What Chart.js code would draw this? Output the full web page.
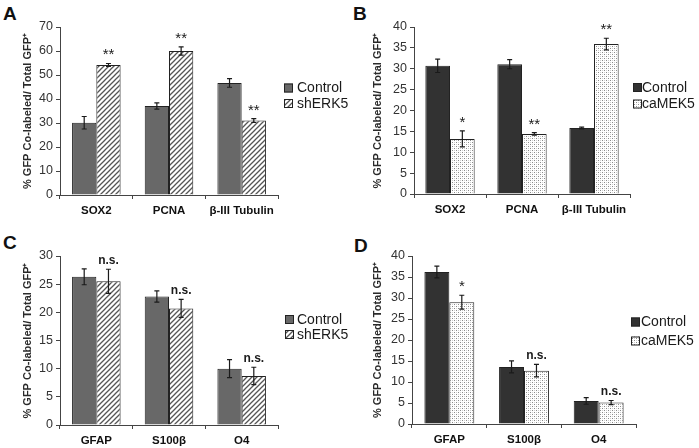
<!DOCTYPE html>
<html><head><meta charset="utf-8">
<script src="https://cdn.jsdelivr.net/npm/chart.js@4.4.1/dist/chart.umd.min.js"></script>
<style>
html,body{margin:0;padding:0;background:#fff;width:699px;height:448px;overflow:hidden}
canvas{position:absolute}
.lbl{position:absolute;font:bold 19px "Liberation Sans",Arial,sans-serif;color:#111;line-height:normal}
</style></head><body>
<div class="lbl" style="left:3px;top:3px">A</div>
<div class="lbl" style="left:353px;top:3px">B</div>
<div class="lbl" style="left:3px;top:232px">C</div>
<div class="lbl" style="left:354px;top:235px">D</div>
<canvas id="cA" width="350" height="224" style="left:0;top:0"></canvas>
<canvas id="cB" width="349" height="224" style="left:350px;top:0"></canvas>
<canvas id="cC" width="350" height="224" style="left:0;top:224px"></canvas>
<canvas id="cD" width="349" height="224" style="left:350px;top:224px"></canvas>
<script>
// ---- data ----
const catsTop = ['SOX2', 'PCNA', 'β-III Tubulin'];
const catsBottom = ['GFAP', 'S100β', 'O4'];

const aControl = [30.1, 37.1, 46.7];
const aControlErr = [2.6, 1.3, 1.8];
const aShERK5 = [54.2, 60.0, 31.0];
const aShERK5Err = [0.6, 1.7, 0.8];
const aSig = ['**', '**', '**'];

const bControl = [30.7, 31.1, 15.8];
const bControlErr = [1.6, 1.1, 0.2];
const bCaMEK5 = [13.2, 14.4, 35.9];
const bCaMEK5Err = [1.9, 0.3, 1.4];
const bSig = ['*', '**', '**'];

const cControl = [26.3, 22.8, 10.0];
const cControlErr = [1.4, 1.0, 1.6];
const cShERK5 = [25.5, 20.7, 8.7];
const cShERK5Err = [2.15, 1.6, 1.55];
const cSig = ['n.s.', 'n.s.', 'n.s.'];

const dControl = [36.2, 13.6, 5.5];
const dControlErr = [1.4, 1.45, 0.8];
const dCaMEK5 = [29.0, 12.7, 5.1];
const dCaMEK5Err = [1.65, 1.5, 0.5];
const dSig = ['*', 'n.s.', 'n.s.'];

const yMaxA = 70, yStepA = 10;
const yMaxB = 40, yStepB = 5;
const yMaxC = 30, yStepC = 5;
const yMaxD = 40, yStepD = 5;
const yTitle = '% GFP Co-labeled/ Total GFP⁺';

// ---- patterns ----
const FAM = '"Liberation Sans", Arial, sans-serif';
function hatch() {
  const c = document.createElement('canvas'); c.width = 5; c.height = 5;
  const g = c.getContext('2d');
  g.fillStyle = '#fff'; g.fillRect(0, 0, 5, 5);
  g.strokeStyle = '#555'; g.lineWidth = 1.3;
  g.beginPath();
  g.moveTo(-1, 6); g.lineTo(6, -1);
  g.moveTo(-1, 1); g.lineTo(1, -1);
  g.moveTo(4, 6); g.lineTo(6, 4);
  g.stroke();
  return g.createPattern(c, 'repeat');
}
function dots() {
  const c = document.createElement('canvas'); c.width = 4; c.height = 4;
  const g = c.getContext('2d');
  g.fillStyle = '#fff'; g.fillRect(0, 0, 4, 4);
  g.fillStyle = '#8a8a8a'; g.fillRect(0, 0, 1, 1); g.fillRect(2, 2, 1, 1);
  g.fillStyle = '#d0d0d0'; g.fillRect(2, 0, 1, 1); g.fillRect(0, 2, 1, 1);
  return g.createPattern(c, 'repeat');
}

// ---- plugins ----
const errPlugin = {
  id: 'errbars',
  afterDatasetsDraw(chart, args, opts) {
    const ctx = chart.ctx, y = chart.scales.y;
    ctx.save();
    chart.data.datasets.forEach((ds, i) => {
      const meta = chart.getDatasetMeta(i);
      meta.data.forEach((el, j) => {
        const v = ds.data[j], e = ds.errs[j];
        const yt = y.getPixelForValue(v + e), yb = y.getPixelForValue(v - e);
        ctx.strokeStyle = '#1a1a1a'; ctx.lineWidth = 1.2;
        ctx.beginPath();
        ctx.moveTo(el.x, yt); ctx.lineTo(el.x, yb);
        ctx.moveTo(el.x - 2.5, yt); ctx.lineTo(el.x + 2.5, yt);
        ctx.moveTo(el.x - 2.5, yb); ctx.lineTo(el.x + 2.5, yb);
        ctx.stroke();
      });
    });
    // significance labels above treatment bar
    const ds = chart.data.datasets[1], meta = chart.getDatasetMeta(1);
    ctx.fillStyle = '#1a1a1a'; ctx.textAlign = 'center'; ctx.textBaseline = 'alphabetic';
    (opts.sig || []).forEach((s, j) => {
      const el = meta.data[j];
      const yt = y.getPixelForValue(ds.data[j] + ds.errs[j]);
      ctx.font = s.includes('*') ? '15px ' + FAM : 'bold 12px ' + FAM;
      ctx.fillText(s, el.x, yt - (s.includes('*') ? 4 : 5));
    });
    ctx.restore();
  }
};
const legPlugin = {
  id: 'boxlegend',
  afterDraw(chart, args, opts) {
    const ctx = chart.ctx;
    ctx.save();
    chart.data.datasets.forEach((ds, i) => {
      const cy = opts.y + i * opts.gap;
      ctx.fillStyle = ds.backgroundColor;
      ctx.fillRect(opts.x, cy - 4.5, 9, 9);
      ctx.strokeStyle = '#222'; ctx.lineWidth = 1;
      ctx.strokeRect(opts.x + 0.5, cy - 4, 8, 8);
      ctx.fillStyle = '#1a1a1a'; ctx.font = '14px ' + FAM;
      ctx.textAlign = 'left'; ctx.textBaseline = 'middle';
      ctx.fillText(ds.label, opts.tx, cy + 0.5);
    });
    ctx.restore();
  }
};

function panel(id, cats, ctrl, ctrlErr, trt, trtErr, sig, trtName, ctrlColor, trtFill, yMax, yStep, g) {
  const cv = document.getElementById(id);
  const W = cv.width, H = cv.height;
  return new Chart(cv, {
    type: 'bar',
    data: {
      labels: cats,
      datasets: [
        { label: 'Control', data: ctrl, errs: ctrlErr, backgroundColor: ctrlColor, borderColor: '#222', borderWidth: 1 },
        { label: trtName, data: trt, errs: trtErr, backgroundColor: trtFill, borderColor: '#222', borderWidth: 1 }
      ]
    },
    options: {
      responsive: false, animation: false, devicePixelRatio: 1,
      layout: { padding: { left: 0, top: g.T, right: W - g.R, bottom: 0 } },
      datasets: { bar: { categoryPercentage: g.cp, barPercentage: 1, borderSkipped: 'bottom' } },
      plugins: {
        legend: { display: false }, tooltip: { enabled: false },
        errbars: { sig: sig },
        boxlegend: { x: g.lx, tx: g.tx, y: g.ly, gap: g.lg }
      },
      scales: {
        x: {
          grid: { display: true, drawOnChartArea: false, drawTicks: true, tickLength: 4, color: '#444', offset: true },
          border: { color: '#444', width: 1 },
          ticks: { font: { family: FAM, size: 11.5, weight: 'bold' }, color: '#111', padding: 5, maxRotation: 0, autoSkip: false },
          afterFit: s => { s.height = H - g.B; }
        },
        y: {
          min: 0, max: yMax,
          ticks: { stepSize: yStep, font: { family: FAM, size: 12.5 }, color: '#333', padding: 3 },
          grid: { drawOnChartArea: false, drawTicks: true, tickLength: 4, color: '#444' },
          border: { color: '#444', width: 1 },
          title: { display: true, text: yTitle, font: { family: FAM, size: 11, weight: 'bold' }, color: '#2a2a2a', padding: { top: 21, bottom: 0 } },
          afterFit: s => { s.width = g.L; }
        }
      }
    },
    plugins: [errPlugin, legPlugin]
  });
}

const midGray = '#686868', darkGray = '#323232';
panel('cA', catsTop, aControl, aControlErr, aShERK5, aShERK5Err, aSig, 'shERK5', midGray, hatch(), yMaxA, yStepA,
  { L: 60, R: 278, T: 27, B: 195, cp: 0.668, lx: 284, tx: 297, ly: 88, lg: 15.5 });
panel('cB', catsTop, bControl, bControlErr, bCaMEK5, bCaMEK5Err, bSig, 'caMEK5', darkGray, dots(), yMaxB, yStepB,
  { L: 64, R: 280, T: 27, B: 194, cp: 0.685, lx: 283, tx: 292, ly: 87.5, lg: 16.5 });
panel('cC', catsBottom, cControl, cControlErr, cShERK5, cShERK5Err, cSig, 'shERK5', midGray, hatch(), yMaxC, yStepC,
  { L: 60, R: 278, T: 32, B: 201, cp: 0.668, lx: 285, tx: 297, ly: 95.5, lg: 15 });
panel('cD', catsBottom, dControl, dControlErr, dCaMEK5, dCaMEK5Err, dSig, 'caMEK5', darkGray, dots(), yMaxD, yStepD,
  { L: 62, R: 286, T: 32, B: 200, cp: 0.668, lx: 281, tx: 291, ly: 98, lg: 19 });
</script>
</body></html>
